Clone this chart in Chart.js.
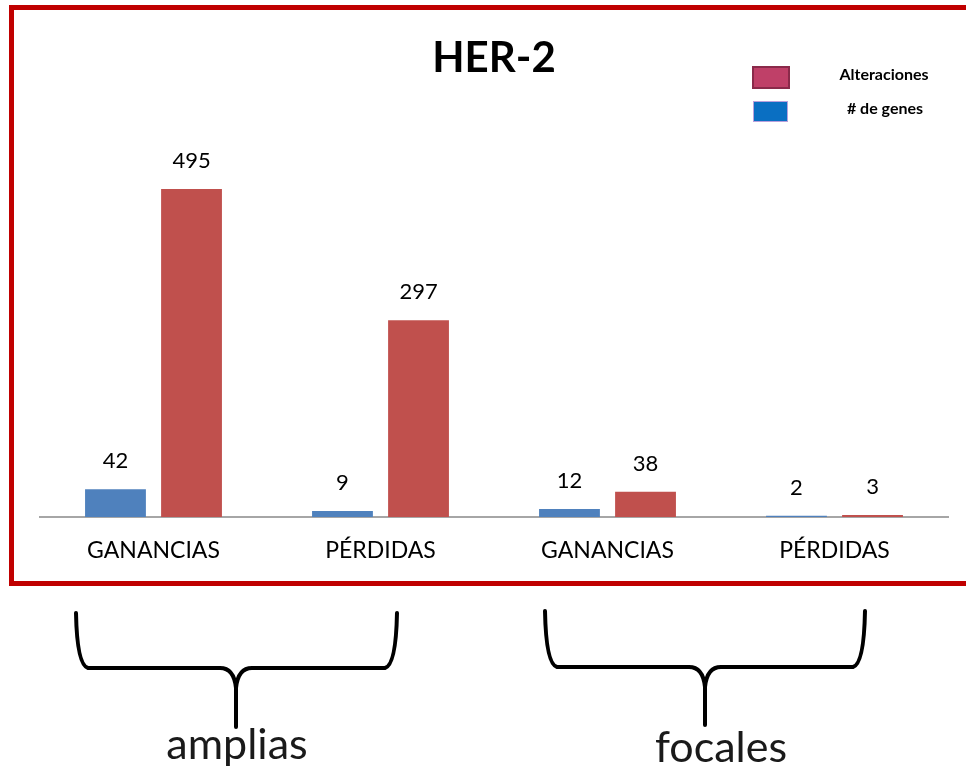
<!DOCTYPE html>
<html>
<head>
<meta charset="utf-8">
<script src="https://cdn.jsdelivr.net/npm/chart.js@4/dist/chart.umd.min.js"></script>
<style>
  html, body { margin: 0; padding: 0; background: #ffffff; }
  #wrap { position: relative; width: 966px; height: 769px; overflow: hidden; }
  canvas { display: block; }
</style>
</head>
<body>
<div id="wrap"><canvas id="c" width="966" height="769"></canvas></div>
<script>
const categories = ['GANANCIAS', 'PÉRDIDAS', 'GANANCIAS', 'PÉRDIDAS'];
const genes = [42, 9, 12, 2];
const alteraciones = [495, 297, 38, 3];
const seriesNames = ['# de genes', 'Alteraciones'];
const groupNames = ['amplias', 'focales'];
const chartTitle = 'HER-2';

const FONT = 'Lato, "Open Sans", "Liberation Sans", sans-serif';

const decorPlugin = {
  id: 'decor',
  afterDraw(chart) {
    const ctx = chart.ctx;
    ctx.save();
    // red frame
    ctx.strokeStyle = '#c00000';
    ctx.lineWidth = 5;
    ctx.strokeRect(11.5, 7.5, 1000, 576);

    // value labels
    ctx.fillStyle = '#000';
    ctx.font = '22px ' + FONT;
    ctx.textAlign = 'center';
    ctx.textBaseline = 'middle';
    chart.data.datasets.forEach((ds, di) => {
      const meta = chart.getDatasetMeta(di);
      meta.data.forEach((el, i) => {
        ctx.fillText(String(ds.data[i]), el.x, el.y - 28);
      });
    });

    // legend (Alteraciones first, then # de genes)
    const dsA = chart.data.datasets[1];
    const dsG = chart.data.datasets[0];
    ctx.fillStyle = '#bf4068';
    ctx.fillRect(753, 67, 36, 21);
    ctx.strokeStyle = '#8a2a4a';
    ctx.lineWidth = 2;
    ctx.strokeRect(753, 67, 36, 21);
    ctx.fillStyle = '#0a6fc2';
    ctx.fillRect(753, 101, 35, 21);
    ctx.strokeStyle = '#b9a0dc';
    ctx.lineWidth = 1;
    ctx.strokeRect(753.5, 101.5, 34, 20);
    ctx.fillStyle = '#000';
    ctx.font = 'bold 16px ' + FONT;
    ctx.fillText(dsA.label, 884, 75);
    ctx.fillText(dsG.label, 885, 109);

    // braces
    function brace(x1, x2, xc, yTop, yH, yTip) {
      ctx.beginPath();
      ctx.moveTo(x1, yTop);
      ctx.quadraticCurveTo(x1 + 1, yH - 3, x1 + 12, yH);
      ctx.lineTo(xc - 16, yH);
      ctx.quadraticCurveTo(xc - 2, yH, xc, yH + 20);
      ctx.lineTo(xc, yTip);
      ctx.moveTo(x2, yTop);
      ctx.quadraticCurveTo(x2 - 1, yH - 3, x2 - 12, yH);
      ctx.lineTo(xc + 16, yH);
      ctx.quadraticCurveTo(xc + 2, yH, xc, yH + 20);
      ctx.stroke();
    }
    ctx.strokeStyle = '#000';
    ctx.lineWidth = 4;
    ctx.lineCap = 'round';
    ctx.lineJoin = 'round';
    brace(76, 397, 236, 613, 668, 727);
    brace(545, 865, 705, 611, 667, 725);

    ctx.fillStyle = '#1a1a1a';
    ctx.font = '43px ' + FONT;
    ctx.textBaseline = 'alphabetic';
    ctx.fillText(groupNames[0], 237, 759);
    ctx.fillText(groupNames[1], 721, 762);
    ctx.restore();
  }
};

new Chart(document.getElementById('c'), {
  type: 'bar',
  data: {
    labels: categories,
    datasets: [
      { label: seriesNames[0], data: genes, backgroundColor: '#4f81bd', borderWidth: 0 },
      { label: seriesNames[1], data: alteraciones, backgroundColor: '#c0504d', borderWidth: 0 }
    ]
  },
  options: {
    responsive: false,
    animation: false,
    events: [],
    layout: { padding: { left: 40, right: 18, top: 0, bottom: 0 } },
    datasets: { bar: { categoryPercentage: 0.67, barPercentage: 0.8 } },
    plugins: {
      legend: { display: false },
      tooltip: { enabled: false },
      title: {
        display: true,
        text: chartTitle,
        color: '#000',
        font: { family: FONT, size: 42, weight: 'bold' },
        padding: { top: 33, bottom: 36 }
      }
    },
    scales: {
      x: {
        grid: { display: false, drawTicks: false },
        border: { display: true, color: '#a6a6a6', width: 2 },
        ticks: { color: '#000', font: { family: FONT, size: 23 }, padding: 20, maxRotation: 0, autoSkip: false },
        afterFit(scale) { scale.height = 252; }
      },
      y: { display: false, min: 0, max: 600 }
    }
  },
  plugins: [decorPlugin]
});
</script>
</body>
</html>
